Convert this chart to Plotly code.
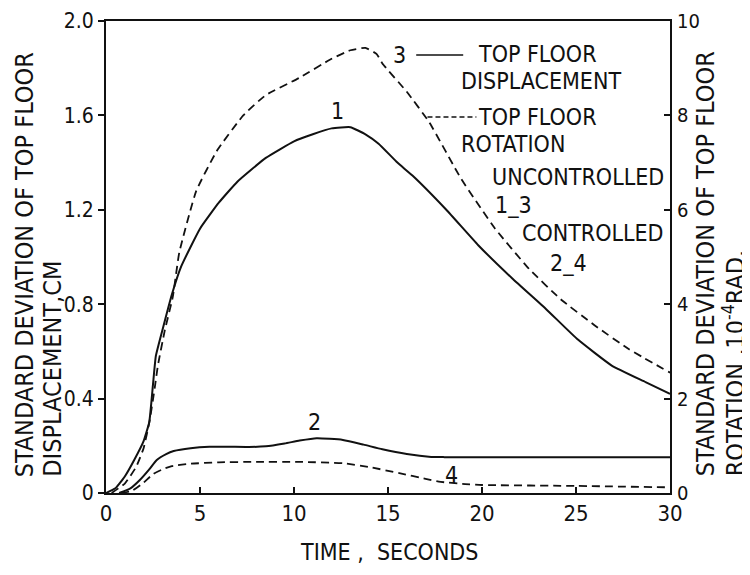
import plotly.graph_objects as go

# ---- data ----
# Curve 1: uncontrolled top floor displacement (cm, left axis)
t1 = [0, 0.5, 1.0, 1.5, 2.0, 2.3, 2.5, 2.65, 3.0, 3.5, 4.0, 5.0, 6.0, 7.0, 8.5, 10.0,
      11.0, 12.0, 13.0, 13.8, 14.5, 15.5, 16.3, 18.1, 19.8, 21.6, 23.4, 25.1, 26.9, 28.7, 30.0]
y1 = [0, 0.02, 0.07, 0.14, 0.22, 0.30, 0.46, 0.58, 0.69, 0.84, 0.96, 1.12, 1.23, 1.32, 1.42, 1.49,
      1.52, 1.545, 1.55, 1.52, 1.48, 1.40, 1.345, 1.20, 1.05, 0.91, 0.78, 0.65, 0.54, 0.47, 0.42]

# Curve 3: uncontrolled top floor rotation (1e-4 rad, right axis)
t3 = [0.3, 1.0, 1.6, 2.0, 2.33, 2.6, 2.76, 3.13, 3.55, 3.9, 4.8, 5.9, 7.3, 8.5, 10.3, 12.0,
      13.0, 13.8, 14.4, 14.7, 16.0, 17.2, 18.9, 20.7, 22.5, 24.2, 26.0, 27.8, 30.0]
y3 = [0, 0.2, 0.55, 0.95, 1.55, 2.25, 2.7, 3.45, 4.15, 5.1, 6.4, 7.25, 8.0, 8.43, 8.8, 9.2,
      9.38, 9.43, 9.3, 9.1, 8.5, 7.85, 6.65, 5.6, 4.75, 4.1, 3.55, 3.05, 2.55]

# Curve 2: controlled top floor displacement (cm, left axis)
t2 = [0.7, 1.3, 1.8, 2.3, 2.7, 3.2, 3.6, 4.5, 5.5, 6.5, 7.6, 8.5, 9.5, 10.3, 11.2, 12.6,
      13.7, 14.7, 16.0, 17.3, 18.0, 30.0]
y2 = [0, 0.02, 0.055, 0.10, 0.14, 0.165, 0.178, 0.19, 0.196, 0.196, 0.195, 0.198, 0.21, 0.222,
      0.232, 0.225, 0.205, 0.185, 0.165, 0.153, 0.152, 0.152]

# Curve 4: controlled top floor rotation (1e-4 rad, right axis)
t4 = [0.8, 1.4, 2.0, 2.5, 3.0, 3.5, 4.5, 6.0, 8.0, 10.3, 12.6, 14.0, 15.6, 17.0, 17.7, 19.1,
      20.0, 25.0, 30.0]
y4 = [0, 0.05, 0.22, 0.4, 0.5, 0.57, 0.62, 0.65, 0.66, 0.66, 0.63, 0.55, 0.42, 0.3, 0.24, 0.19,
      0.17, 0.15, 0.12]

x_ticks = [0, 5, 10, 15, 20, 25, 30]
y_left_ticks = [0, 0.4, 0.8, 1.2, 1.6, 2.0]
y_left_labels = ["0", "0.4", "0.8", "1.2", "1.6", "2.0"]
y_right_ticks = [0, 2, 4, 6, 8, 10]

FONT = "DejaVu Sans Condensed, DejaVu Sans, sans-serif"
BLACK = "#111111"

fig = go.Figure()
solid = dict(color=BLACK, width=2)
dashed = dict(color=BLACK, width=1.8, dash="8px,5px")

fig.add_trace(go.Scatter(x=t1, y=y1, mode="lines", line=dict(**solid, shape="spline", smoothing=0.4), yaxis="y"))
fig.add_trace(go.Scatter(x=t2, y=y2, mode="lines", line=dict(**solid, shape="spline", smoothing=0.5), yaxis="y"))
fig.add_trace(go.Scatter(x=t3, y=y3, mode="lines", line=dict(**dashed, shape="spline", smoothing=0.4), yaxis="y2"))
fig.add_trace(go.Scatter(x=t4, y=y4, mode="lines", line=dict(**dashed, shape="spline", smoothing=0.5), yaxis="y2"))

# page has an 8px body margin, so the figure is sized/margined to compensate
fig.update_layout(
    width=742, height=567,
    margin=dict(l=98, r=80, t=13, b=82, autoexpand=False),
    paper_bgcolor="white", plot_bgcolor="white",
    showlegend=False,
    font=dict(family=FONT, size=21, color=BLACK),
    xaxis=dict(range=[0, 30], tickvals=x_ticks, ticks="inside", ticklen=6, tickwidth=1.5,
               tickcolor=BLACK, showline=True, linecolor=BLACK, linewidth=2, mirror=True,
               showgrid=False, zeroline=False, tickfont=dict(size=22)),
    yaxis=dict(range=[0, 2.0], tickvals=y_left_ticks, ticktext=y_left_labels, ticks="outside",
               ticklen=6, tickwidth=1.5, tickcolor=BLACK, showline=True, linecolor=BLACK,
               linewidth=2, showgrid=False, zeroline=False, tickfont=dict(size=21)),
    yaxis2=dict(range=[0, 10], tickvals=y_right_ticks, overlaying="y", side="right",
                ticks="inside", ticklen=6, tickwidth=1.5, tickcolor=BLACK, showline=True,
                linecolor=BLACK, linewidth=2, showgrid=False, zeroline=False,
                tickfont=dict(size=20), ticklabelstandoff=1),
)

ann = []
# axis titles (each line placed separately for tight line spacing)
for txt, xx in [("STANDARD DEVIATION OF TOP FLOOR", -0.1454),
                ("DISPLACEMENT,CM", -0.0940),
                ("STANDARD DEVIATION OF TOP FLOOR", 1.0621),
                ("ROTATION ,10<sup>-4</sup>RAD.", 1.1135)]:
    ann.append(dict(text=txt, xref="paper", yref="paper", x=xx, y=0.03,
                    xanchor="center", yanchor="bottom", textangle=-90,
                    showarrow=False, font=dict(size=25)))
ann.append(dict(text="TIME ,  SECONDS", xref="paper", yref="paper", x=0.502, y=-0.125,
                xanchor="center", yanchor="middle", showarrow=False, font=dict(size=23)))
# curve labels
for txt, xx, yy in [("1", 12.3, 1.62), ("3", 15.6, 1.856), ("2", 11.1, 0.30), ("4", 18.4, 0.077)]:
    ann.append(dict(text=txt, x=xx, y=yy, xref="x", yref="y", showarrow=False,
                    xanchor="center", yanchor="middle", font=dict(size=23)))
# legend texts
for txt, xx, yy, xa in [("TOP FLOOR", 19.7, 1.860, "left"),
                        ("DISPLACEMENT", 18.8, 1.744, "left"),
                        ("TOP FLOOR", 19.7, 1.593, "left"),
                        ("ROTATION", 18.8, 1.478, "left"),
                        ("UNCONTROLLED", 29.8, 1.339, "right"),
                        ("1_3", 20.6, 1.22, "left"),
                        ("CONTROLLED", 29.8, 1.10, "right"),
                        ("2_4", 23.5, 0.975, "left")]:
    ann.append(dict(text=txt, x=xx, y=yy, xref="x", yref="y", showarrow=False,
                    xanchor=xa, yanchor="middle", font=dict(size=23)))
fig.update_layout(annotations=ann)

# legend line samples
fig.add_shape(type="line", xref="x", yref="y", x0=16.5, x1=19.0, y0=1.856, y1=1.856,
              line=dict(color=BLACK, width=1.5))
fig.add_shape(type="line", xref="x", yref="y", x0=17.1, x1=19.7, y0=1.593, y1=1.593,
              line=dict(color=BLACK, width=1.5, dash="5px,3px"))

fig.write_html("out.html")
